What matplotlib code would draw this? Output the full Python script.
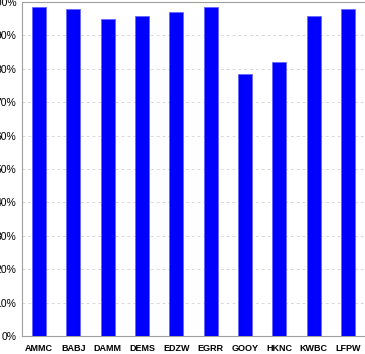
import matplotlib.pyplot as plt
import numpy as np

# Data
stations = ['AMMC', 'BABJ', 'DAMM', 'DEMS', 'EDZW', 'EGRR', 'GOOY', 'HKNC', 'KWBC', 'LFPW']
values = [98.4, 97.8, 94.9, 95.9, 97.0, 98.4, 78.5, 82.0, 95.9, 98.0]
yticks = [0, 10, 20, 30, 40, 50, 60, 70, 80, 90, 100]

fig = plt.figure(figsize=(3.65, 3.54), dpi=100)
ax = fig.add_axes([22 / 365, 18 / 354, 343 / 365, 334 / 354])

x = np.arange(len(stations))
ax.bar(x, values, width=0.41, color='#0000ff', edgecolor='#6666ff', linewidth=0.6, zorder=3)

ax.set_xlim(-0.5, len(stations) - 0.5)
ax.set_ylim(0, 100)
ax.set_yticks(yticks)
ax.set_yticklabels(['%d%%' % v for v in yticks], fontsize=7.5, family='Liberation Sans')
ax.set_xticks(x)
ax.set_xticklabels(stations, fontsize=6.5, fontweight='bold', family='Liberation Sans')
ax.tick_params(axis='both', length=0, pad=4)
ax.tick_params(axis='x', pad=6)

ax.grid(axis='y', color='#d8d8d8', linestyle=(0, (3, 3)), linewidth=0.7, zorder=0)
for side in ['left', 'bottom', 'top']:
    ax.spines[side].set_color('#a0a0a0')
ax.spines['right'].set_visible(False)

fig.savefig('out.png', dpi=100)
